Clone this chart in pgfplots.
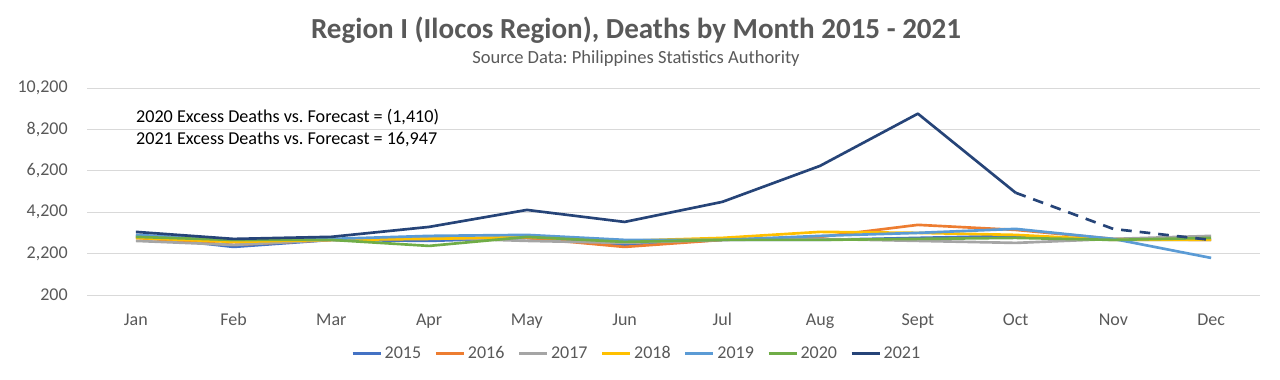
\documentclass[border=0pt]{standalone}
\usepackage{pgfplots}
\pgfplotsset{compat=1.18}
\usepackage{fontspec}
\setmainfont{Carlito}
\frenchspacing
\definecolor{c15}{HTML}{4472C4}
\definecolor{c16}{HTML}{ED7D31}
\definecolor{c17}{HTML}{A5A5A5}
\definecolor{c18}{HTML}{FFC000}
\definecolor{c19}{HTML}{5B9BD5}
\definecolor{c20}{HTML}{70AD47}
\definecolor{c21}{HTML}{264478}
\definecolor{txt}{HTML}{595959}
\definecolor{grd}{HTML}{D9D9D9}
\begin{document}
\begin{tikzpicture}
\useasboundingbox (0,0) rectangle (960pt,284.25pt);
\node[font=\bfseries\fontsize{21.8}{26}\selectfont, text=txt] at (477pt,261.75pt) {Region I (Ilocos Region), Deaths by Month 2015 - 2021};
\node[font=\fontsize{13.9}{16}\selectfont, text=txt] at (477pt,240.5pt) {Source Data: Philippines Statistics Authority};
\begin{axis}[
  at={(65.25pt,63pt)}, anchor=south west,
  scale only axis, width=879.75pt, height=155.25pt,
  xmin=-0.5, xmax=11.5, ymin=200, ymax=10200,
  xtick={0,...,11},
  xticklabels={Jan,Feb,Mar,Apr,May,Jun,Jul,Aug,Sept,Oct,Nov,Dec},
  ytick={200,2200,4200,6200,8200,10200},
  /pgf/number format/1000 sep={,},
  /pgf/number format/fixed,
  /pgf/number format/assume math mode=true,
  scaled y ticks=false,
  ymajorgrids, grid style={grd, line width=0.75pt},
  axis line style={draw=none},
  major tick length=0pt,
  tick label style={font=\fontsize{13.5}{16}\selectfont, text=txt},
  xticklabel style={anchor=base, yshift=-22.5pt},
  yticklabel style={xshift=-11pt},
  every axis plot/.append style={line width=2pt, line join=round},
  legend columns=7,
  legend style={at={(0.469,-0.283)}, anchor=center, draw=none, font=\fontsize{13.5}{16}\selectfont, text=txt,
    /tikz/every even column/.append style={column sep=8pt},
    /tikz/every odd column/.append style={column sep=0pt}},
  legend image code/.code={\draw[#1, line width=2pt] (0pt,0pt) -- (21pt,0pt);},
]
\addplot[c15] coordinates {(0,3056) (1,2523) (2,2862) (3,2814) (4,2959) (5,2620) (6,2862) (7,2862) (8,2959) (9,3056) (10,2862) (11,2862)};
\addlegendentry{2015}
\addplot[c16] coordinates {(0,2959) (1,2620) (2,2862) (3,2959) (4,2959) (5,2523) (6,2862) (7,3007) (8,3588) (9,3346) (10,2910) (11,2862)};
\addlegendentry{2016}
\addplot[c17] coordinates {(0,2814) (1,2620) (2,2862) (3,2959) (4,2814) (5,2717) (6,2862) (7,2910) (8,2814) (9,2717) (10,2910) (11,3056)};
\addlegendentry{2017}
\addplot[c18] coordinates {(0,2959) (1,2765) (2,2862) (3,2910) (4,3007) (5,2814) (6,2959) (7,3249) (8,3201) (9,3104) (10,2862) (11,2862)};
\addlegendentry{2018}
\addplot[c19] coordinates {(0,3104) (1,2862) (2,2910) (3,3056) (4,3104) (5,2862) (6,2862) (7,3056) (8,3201) (9,3394) (10,2910) (11,1991)};
\addlegendentry{2019}
\addplot[c20] coordinates {(0,3007) (1,2862) (2,2862) (3,2572) (4,3007) (5,2765) (6,2862) (7,2862) (8,2910) (9,2959) (10,2862) (11,2959)};
\addlegendentry{2020}
\addplot[c21] coordinates {(0,3249) (1,2910) (2,3010) (3,3490) (4,4310) (5,3730) (6,4700) (7,6440) (8,8960) (9,5140)};
\addlegendentry{2021}
\addplot[c21, dash pattern=on 8pt off 6pt, forget plot] coordinates {(9,5140) (10,3390) (11,2860)};
\node[anchor=west, font=\fontsize{13.6}{16}\selectfont, inner sep=0pt] at (axis cs:0,8815) {2020 Excess Deaths vs. Forecast = (1,410)};
\node[anchor=west, font=\fontsize{13.6}{16}\selectfont, inner sep=0pt] at (axis cs:0,7702) {2021 Excess Deaths vs. Forecast = 16,947};
\end{axis}
\end{tikzpicture}
\end{document}
